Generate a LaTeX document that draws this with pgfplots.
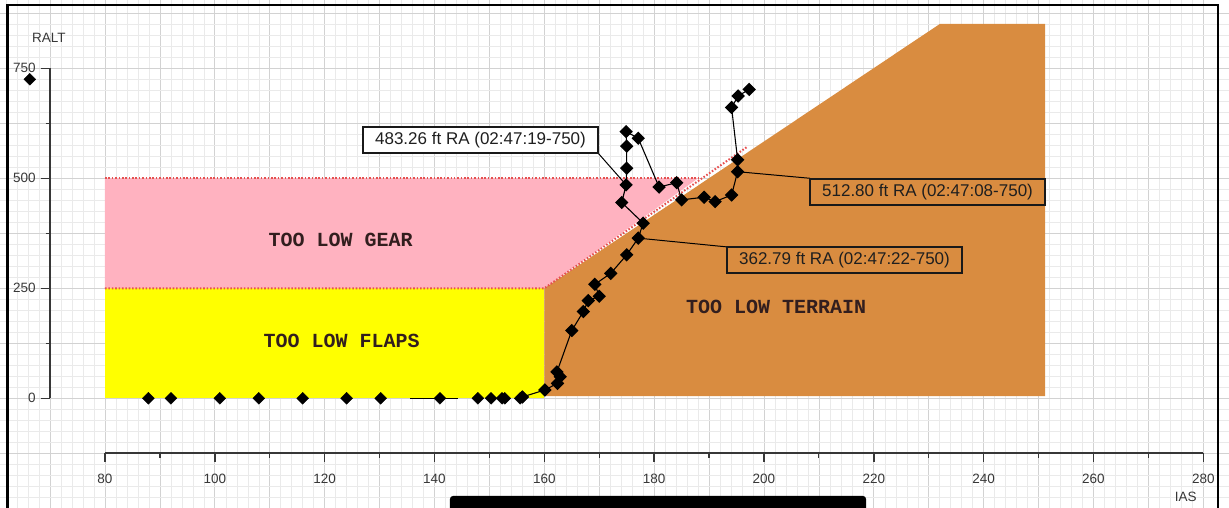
\documentclass[border=0pt]{standalone}
\usepackage{fontspec}
\setmainfont{Liberation Sans}
\newfontfamily\regionfont{Liberation Mono}
\usepackage{pgfplots}
\pgfplotsset{compat=1.18}
\definecolor{gridmajor}{RGB}{210,210,210}
\definecolor{gridminor}{RGB}{234,234,234}
\definecolor{gearpink}{RGB}{255,178,192}
\definecolor{flapyellow}{RGB}{255,255,0}
\definecolor{terrain}{RGB}{217,140,64}
\definecolor{dotred}{RGB}{230,80,80}
\definecolor{axgray}{RGB}{55,55,55}
\definecolor{regtext}{RGB}{50,30,30}
\begin{document}
\begin{tikzpicture}
\path[use as bounding box] (0,0) rectangle (1229bp,508bp);
\begin{axis}[
  at={(0,0)}, anchor=south west,
  scale only axis, width=1229bp, height=508bp,
  xmin=60.88, xmax=284.68, ymin=-249.3, ymax=905.2,
  axis line style={draw=none},
  xtick={60,70,...,280}, ytick={-250,-125,...,875},
  minor x tick num=4, minor y tick num=4,
  grid=both,
  major grid style={color=gridmajor, line width=0.8pt},
  minor grid style={color=gridminor, line width=0.5pt},
  xticklabels={}, yticklabels={},
  major tick length=0pt, minor tick length=0pt,
]
% regions
\addplot[fill=flapyellow, draw=none] coordinates {(80,0) (80,250) (160,250) (160,0)} -- cycle;
\addplot[fill=gearpink, draw=none] coordinates {(80,250) (80,500) (188,500) (160,250)} -- cycle;
\addplot[fill=terrain, draw=none] coordinates {(160,5) (160,250) (232.05,851) (251.2,851) (251.2,5)} -- cycle;
% dotted boundaries
\addplot[dotred, line width=2pt, dash pattern=on 1.6pt off 1.8pt] coordinates {(80,250) (160,250) (197,572)};
\addplot[dotred, line width=2pt, dash pattern=on 1.6pt off 1.8pt] coordinates {(80,500) (188,500)};
% region labels
\node[regtext, font=\regionfont\bfseries\fontsize{20bp}{22bp}\selectfont] at (axis cs:122.9,360) {TOO LOW GEAR};
\node[regtext, font=\regionfont\bfseries\fontsize{20bp}{22bp}\selectfont] at (axis cs:123.1,130) {TOO LOW FLAPS};
\node[regtext, font=\regionfont\bfseries\fontsize{20bp}{22bp}\selectfont] at (axis cs:202.2,208) {TOO LOW TERRAIN};
% visible axes
\draw[axgray, line width=1.8pt] (axis cs:70,0) -- (axis cs:70,750);
\pgfplotsinvokeforeach{0,250,500,750}{\draw[axgray, line width=1.4pt] (axis cs:68.4,#1) -- (axis cs:70,#1);}
\pgfplotsinvokeforeach{125,375,625}{\draw[axgray, line width=1.2pt] (axis cs:69.2,#1) -- (axis cs:70,#1);}
\draw[axgray, line width=1.8pt] (axis cs:80,-125) -- (axis cs:280,-125);
\pgfplotsinvokeforeach{80,100,...,280}{\draw[axgray, line width=1.4pt] (axis cs:#1,-125) -- (axis cs:#1,-145);}
\pgfplotsinvokeforeach{90,110,...,270}{\draw[axgray, line width=1.2pt] (axis cs:#1,-125) -- (axis cs:#1,-136);}
% tick labels
\begin{scope}[every node/.style={axgray, font=\fontsize{13.5bp}{15bp}\selectfont, inner sep=0pt}]
\node[anchor=east] at (axis cs:67.4,750) {750};
\node[anchor=east] at (axis cs:67.4,500) {500};
\node[anchor=east] at (axis cs:67.4,250) {250};
\node[anchor=east] at (axis cs:67.4,0) {0};
\node at (axis cs:69.8,820) {RALT};
\node at (axis cs:80,-182) {80};
\node at (axis cs:100,-182) {100};
\node at (axis cs:120,-182) {120};
\node at (axis cs:140,-182) {140};
\node at (axis cs:160,-182) {160};
\node at (axis cs:180,-182) {180};
\node at (axis cs:200,-182) {200};
\node at (axis cs:220,-182) {220};
\node at (axis cs:240,-182) {240};
\node at (axis cs:260,-182) {260};
\node at (axis cs:280,-182) {280};
\node at (axis cs:276.8,-225) {IAS};
\end{scope}
% leader lines
\draw[black, line width=1pt] (axis cs:169.6,560) -- (axis cs:174.9,485);
\draw[black, line width=1pt] (axis cs:195.2,515) -- (axis cs:208.4,500);
\draw[black, line width=1pt] (axis cs:177.1,364) -- (axis cs:193.3,344);
% data
\addplot[black, line width=0.9pt] coordinates {(135.5,0) (144.3,0)};
\addplot[black, only marks, mark=square*, mark size=4.2pt, mark options={rotate=45}] coordinates {
(66.3,725) (87.9,0) (92.0,0) (100.9,0) (108.0,0) (116.0,0) (124.0,0) (130.2,0) (141.0,0)
(147.9,0) (150.3,0) (152.3,0) (152.8,0) (155.6,0) (156.0,3)};
\addplot[black, line width=1.1pt, mark=square*, mark size=4.2pt, mark options={rotate=45}] coordinates {
(156.0,3) (160.1,19) (162.4,34) (162.9,49) (162.3,60) (165.0,154) (167.1,197) (168.0,222)
(170.0,232) (169.2,259) (172.1,284) (175.0,326) (177.1,364) (178.0,398) (174.1,445)
(174.9,485) (175.0,523) (175.0,573) (174.9,606) (177.1,591) (180.9,480) (184.1,490)
(185.0,451) (189.1,457) (191.1,447) (194.1,462) (195.2,515) (195.2,542) (194.1,661)
(195.3,687) (197.3,702)};
% annotation boxes
\begin{scope}[every node/.style={draw=black!90, line width=1.3pt, minimum width=235bp, minimum height=26bp, inner sep=0pt, font=\fontsize{17bp}{19bp}\selectfont, text=black!88}]
\node[fill=white] at (axis cs:148.38,587) {483.26 ft RA (02:47:19-750)};
\node at (axis cs:229.78,469) {512.80 ft RA (02:47:08-750)};
\node at (axis cs:214.66,314) {362.79 ft RA (02:47:22-750)};
\end{scope}
% frame and redaction bar
\draw[black, line width=2.2pt] (axis cs:62.25,-260) |- (axis cs:282.68,893.9) -- (axis cs:282.68,-260);
\fill[black, rounded corners=3bp] (axis cs:142.82,-260) rectangle (axis cs:218.58,-222);
\end{axis}
\end{tikzpicture}
\end{document}
